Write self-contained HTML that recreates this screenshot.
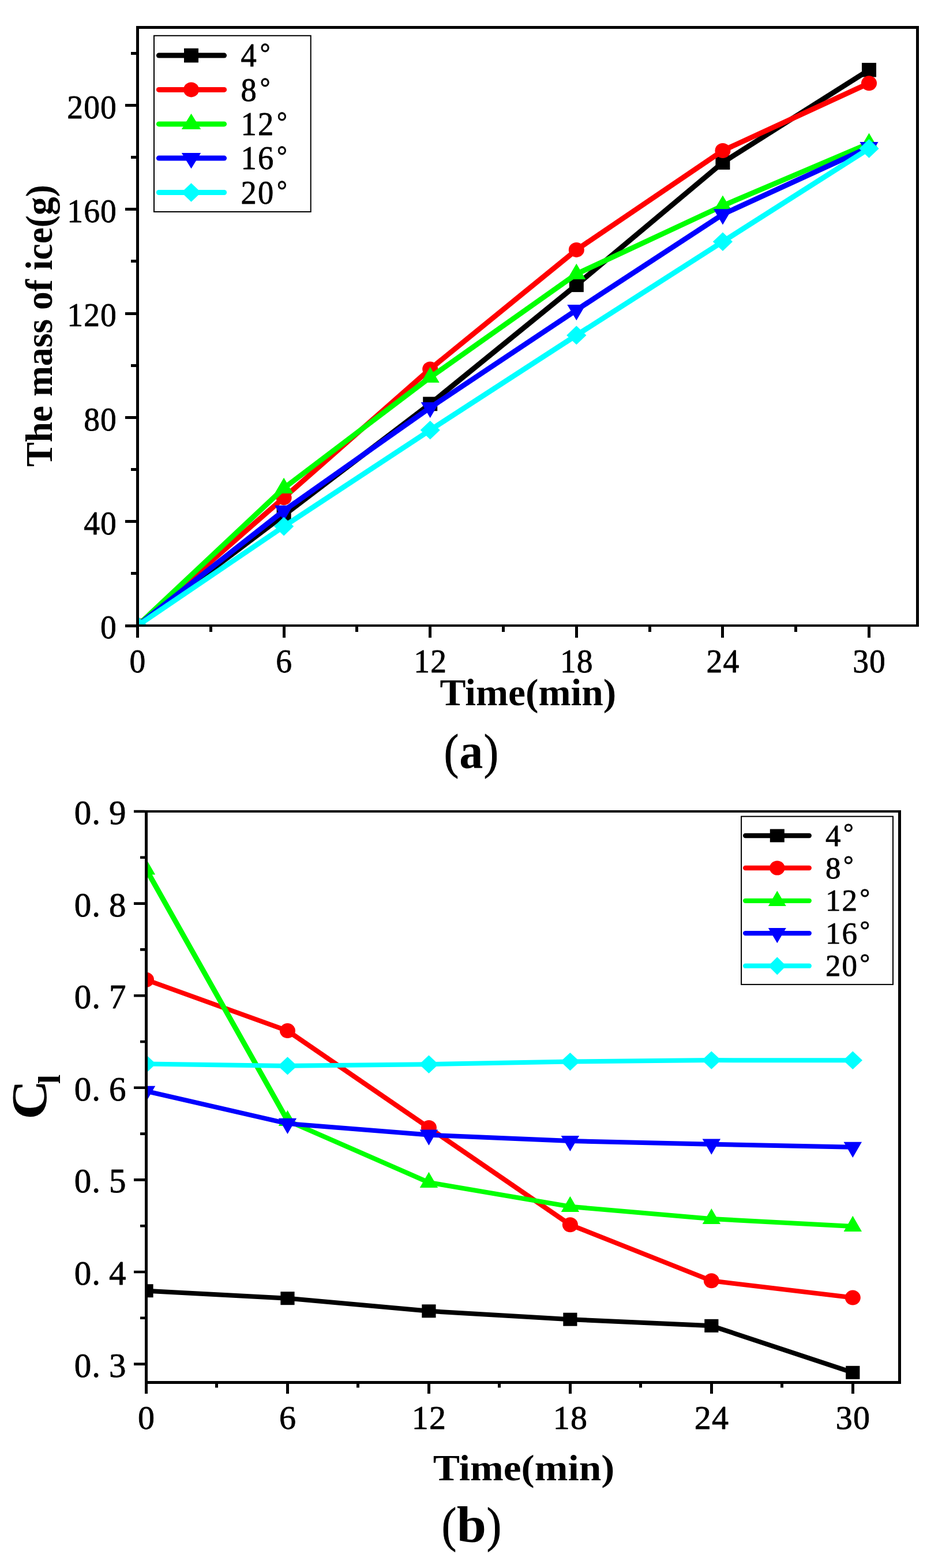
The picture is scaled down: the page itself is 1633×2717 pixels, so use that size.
<!DOCTYPE html>
<html lang="en"><head><meta charset="utf-8"><title>Ice mass and Cl versus time</title>
<style>
html,body{margin:0;padding:0;background:#fff;}
body{width:1633px;height:2717px;overflow:hidden;}
svg{display:block;}
text{font-family:"Liberation Serif","Noto Serif CJK SC",serif;fill:#000;}
.n{font-weight:400;stroke:#000;stroke-width:0.8px;stroke-linejoin:round;}
.t{font-weight:700;}
.p{font-weight:400;stroke:#000;stroke-width:1.1px;stroke-linejoin:round;}
</style></head><body>
<svg width="1633" height="2717" viewBox="0 0 1633 2717">
<rect width="1633" height="2717" fill="#fff"/>
<g id="chart-a">
<clipPath id="clipA"><rect x="238.5" y="47.5" width="1352" height="1036.5"/></clipPath>
<g clip-path="url(#clipA)">
<polyline points="238.5,1084 492.1,892.7 745.7,699.9 999.31,493.8 1252.91,281.6 1506.51,121.2" fill="none" stroke="#000000" stroke-width="9" stroke-linejoin="round" stroke-linecap="round"/>
<rect x="226" y="1071.7" width="25" height="24.6" fill="#000000"/>
<rect x="479.6" y="880.4" width="25" height="24.6" fill="#000000"/>
<rect x="733.2" y="687.6" width="25" height="24.6" fill="#000000"/>
<rect x="986.81" y="481.5" width="25" height="24.6" fill="#000000"/>
<rect x="1240.41" y="269.3" width="25" height="24.6" fill="#000000"/>
<rect x="1494.01" y="108.9" width="25" height="24.6" fill="#000000"/>
<polyline points="238.5,1084 492.1,862.4 745.7,639.5 999.31,432.9 1252.91,261 1506.51,144.2" fill="none" stroke="#ff0000" stroke-width="9" stroke-linejoin="round" stroke-linecap="round"/>
<ellipse cx="238.5" cy="1084" rx="13.5" ry="13" fill="#ff0000"/>
<ellipse cx="492.1" cy="862.4" rx="13.5" ry="13" fill="#ff0000"/>
<ellipse cx="745.7" cy="639.5" rx="13.5" ry="13" fill="#ff0000"/>
<ellipse cx="999.31" cy="432.9" rx="13.5" ry="13" fill="#ff0000"/>
<ellipse cx="1252.91" cy="261" rx="13.5" ry="13" fill="#ff0000"/>
<ellipse cx="1506.51" cy="144.2" rx="13.5" ry="13" fill="#ff0000"/>
<polyline points="238.5,1084 492.1,845.9 745.7,653.9 999.31,474.8 1252.91,356.5 1506.51,248.6" fill="none" stroke="#00ff00" stroke-width="9" stroke-linejoin="round" stroke-linecap="round"/>
<polygon points="238.5,1065.9 254.5,1093.1 222.5,1093.1" fill="#00ff00"/>
<polygon points="492.1,827.8 508.1,855 476.1,855" fill="#00ff00"/>
<polygon points="745.7,635.8 761.7,663 729.7,663" fill="#00ff00"/>
<polygon points="999.31,456.7 1015.31,483.9 983.31,483.9" fill="#00ff00"/>
<polygon points="1252.91,338.4 1268.91,365.6 1236.91,365.6" fill="#00ff00"/>
<polygon points="1506.51,230.5 1522.51,257.7 1490.51,257.7" fill="#00ff00"/>
<polyline points="238.5,1084 492.1,884.9 745.7,706.2 999.31,537.2 1252.91,371.4 1506.51,255.2" fill="none" stroke="#0000ff" stroke-width="9" stroke-linejoin="round" stroke-linecap="round"/>
<polygon points="238.5,1102.1 254.5,1074.9 222.5,1074.9" fill="#0000ff"/>
<polygon points="492.1,903 508.1,875.8 476.1,875.8" fill="#0000ff"/>
<polygon points="745.7,724.3 761.7,697.1 729.7,697.1" fill="#0000ff"/>
<polygon points="999.31,555.3 1015.31,528.1 983.31,528.1" fill="#0000ff"/>
<polygon points="1252.91,389.5 1268.91,362.3 1236.91,362.3" fill="#0000ff"/>
<polygon points="1506.51,273.3 1522.51,246.1 1490.51,246.1" fill="#0000ff"/>
<polyline points="238.5,1084 492.1,912.1 745.7,745.3 999.31,580.9 1252.91,418.8 1506.51,257.4" fill="none" stroke="#00ffff" stroke-width="9" stroke-linejoin="round" stroke-linecap="round"/>
<polygon points="238.5,1067.7 255.6,1084 238.5,1100.3 221.4,1084" fill="#00ffff"/>
<polygon points="492.1,895.8 509.2,912.1 492.1,928.4 475,912.1" fill="#00ffff"/>
<polygon points="745.7,729 762.8,745.3 745.7,761.6 728.6,745.3" fill="#00ffff"/>
<polygon points="999.31,564.6 1016.41,580.9 999.31,597.2 982.21,580.9" fill="#00ffff"/>
<polygon points="1252.91,402.5 1270.01,418.8 1252.91,435.1 1235.81,418.8" fill="#00ffff"/>
<polygon points="1506.51,241.1 1523.61,257.4 1506.51,273.7 1489.41,257.4" fill="#00ffff"/>
</g>
<path d="M236,45H1593V1086H236ZM241,50V1082H1588V50ZM236,1086H241V1105H236ZM490,1086H495V1105H490ZM743,1086H748V1105H743ZM997,1086H1002V1105H997ZM1250,1086H1255V1105H1250ZM1504,1086H1509V1105H1504ZM363,1086H368V1095H363ZM616,1086H621V1095H616ZM870,1086H875V1095H870ZM1124,1086H1129V1095H1124ZM1377,1086H1382V1095H1377ZM217,1082H236V1087H217ZM217,901H236V906H217ZM217,721H236V726H217ZM217,541H236V546H217ZM217,360H236V365H217ZM217,180H236V185H217ZM227,991H236V996H227ZM227,811H236V816H227ZM227,631H236V636H227ZM227,450H236V455H227ZM227,270H236V275H227ZM227,90H236V95H227Z" fill="#000" fill-rule="evenodd"/>
<text class="n" x="231.55" y="1165.3" font-size="57.3" transform="scale(0.97,1)">0</text>
<text class="n" x="493" y="1165.3" font-size="57.3" transform="scale(0.97,1)">6</text>
<text class="n" x="739.55 769.34" y="1165.3" font-size="57.3" transform="scale(0.97,1)">12</text>
<text class="n" x="1000.99 1030.78" y="1165.3" font-size="57.3" transform="scale(0.97,1)">18</text>
<text class="n" x="1262.44 1292.23" y="1165.3" font-size="57.3" transform="scale(0.97,1)">24</text>
<text class="n" x="1523.88 1553.67" y="1165.3" font-size="57.3" transform="scale(0.97,1)">30</text>
<text class="n" x="179.44" y="1106.2" font-size="57.3" transform="scale(0.97,1)">0</text>
<text class="n" x="149.64 179.44" y="925.9" font-size="57.3" transform="scale(0.97,1)">40</text>
<text class="n" x="149.64 179.44" y="745.6" font-size="57.3" transform="scale(0.97,1)">80</text>
<text class="n" x="119.85 149.64 179.44" y="565.3" font-size="57.3" transform="scale(0.97,1)">120</text>
<text class="n" x="119.85 149.64 179.44" y="385" font-size="57.3" transform="scale(0.97,1)">160</text>
<text class="n" x="119.85 149.64 179.44" y="204.7" font-size="57.3" transform="scale(0.97,1)">200</text>
<rect x="267" y="61.8" width="271.7" height="305.2" fill="#fff" stroke="#000" stroke-width="2"/>
<line x1="275.4" y1="96.1" x2="388.6" y2="96.1" stroke="#000000" stroke-width="9" stroke-linecap="round"/>
<rect x="319" y="83.8" width="25" height="24.6" fill="#000000"/>
<text class="n" y="115.5" font-size="58" transform="scale(0.94,1)"><tspan x="444.28">4</tspan><tspan x="479.48" dy="-8.2" font-size="47">°</tspan></text>
<line x1="275.4" y1="155.4" x2="388.6" y2="155.4" stroke="#ff0000" stroke-width="9" stroke-linecap="round"/>
<ellipse cx="331.5" cy="155.4" rx="13.5" ry="13" fill="#ff0000"/>
<text class="n" y="174.8" font-size="58" transform="scale(0.94,1)"><tspan x="444.28">8</tspan><tspan x="479.48" dy="-8.2" font-size="47">°</tspan></text>
<line x1="275.4" y1="214.9" x2="388.6" y2="214.9" stroke="#00ff00" stroke-width="9" stroke-linecap="round"/>
<polygon points="331.5,196.8 348.2,224 314.8,224" fill="#00ff00"/>
<text class="n" y="234.3" font-size="58" transform="scale(0.94,1)"><tspan x="444.28 475.45">12</tspan><tspan x="510.65" dy="-8.2" font-size="47">°</tspan></text>
<line x1="275.4" y1="274.1" x2="388.6" y2="274.1" stroke="#0000ff" stroke-width="9" stroke-linecap="round"/>
<polygon points="331.5,292.2 348.2,265 314.8,265" fill="#0000ff"/>
<text class="n" y="293.5" font-size="58" transform="scale(0.94,1)"><tspan x="444.28 475.45">16</tspan><tspan x="510.65" dy="-8.2" font-size="47">°</tspan></text>
<line x1="275.4" y1="333.5" x2="388.6" y2="333.5" stroke="#00ffff" stroke-width="9" stroke-linecap="round"/>
<polygon points="331.5,317.2 348.6,333.5 331.5,349.8 314.4,333.5" fill="#00ffff"/>
<text class="n" y="352.9" font-size="58" transform="scale(0.94,1)"><tspan x="444.28 475.45">20</tspan><tspan x="510.65" dy="-8.2" font-size="47">°</tspan></text>
<text class="t" x="762.49" y="1222.14" font-size="64.75" textLength="305.68" lengthAdjust="spacingAndGlyphs">Time(min)</text>
<text><tspan class="p" x="769.86" y="1331.45" font-size="85.41" textLength="25.47" lengthAdjust="spacingAndGlyphs">(</tspan><tspan class="t" x="796.13" y="1331.24" font-size="86.04" textLength="41.1" lengthAdjust="spacingAndGlyphs">a</tspan><tspan class="p" x="838.74" y="1331.45" font-size="85.41" textLength="25.22" lengthAdjust="spacingAndGlyphs">)</tspan></text>
<text transform="translate(90.11,808.85) rotate(-90)"><tspan class="t" font-size="64.5" textLength="488.78" lengthAdjust="spacingAndGlyphs" x="0" y="0">The mass of ice(g)</tspan></text>
</g>
<g id="chart-b">
<clipPath id="clipB"><rect x="253.5" y="1406" width="1306" height="989.5"/></clipPath>
<g clip-path="url(#clipB)">
<line x1="253.5" y1="2236.7" x2="498.46" y2="2249.7" stroke="#000000" stroke-width="8" stroke-linecap="round"/>
<line x1="498.46" y1="2249.7" x2="743.42" y2="2271.8" stroke="#000000" stroke-width="8.01" stroke-linecap="round"/>
<line x1="743.42" y1="2271.8" x2="988.39" y2="2286.2" stroke="#000000" stroke-width="8" stroke-linecap="round"/>
<line x1="988.39" y1="2286.2" x2="1233.35" y2="2297.3" stroke="#000000" stroke-width="8" stroke-linecap="round"/>
<line x1="1233.35" y1="2297.3" x2="1478.31" y2="2378.3" stroke="#000000" stroke-width="8.14" stroke-linecap="round"/>
<rect x="241.4" y="2225.2" width="24.2" height="23" fill="#000000"/>
<rect x="486.36" y="2238.2" width="24.2" height="23" fill="#000000"/>
<rect x="731.32" y="2260.3" width="24.2" height="23" fill="#000000"/>
<rect x="976.29" y="2274.7" width="24.2" height="23" fill="#000000"/>
<rect x="1221.25" y="2285.8" width="24.2" height="23" fill="#000000"/>
<rect x="1466.21" y="2366.8" width="24.2" height="23" fill="#000000"/>
<line x1="253.5" y1="1697.8" x2="498.46" y2="1786.1" stroke="#ff0000" stroke-width="8.16" stroke-linecap="round"/>
<line x1="498.46" y1="1786.1" x2="743.42" y2="1954" stroke="#ff0000" stroke-width="8.45" stroke-linecap="round"/>
<line x1="743.42" y1="1954" x2="988.39" y2="2122.2" stroke="#ff0000" stroke-width="8.45" stroke-linecap="round"/>
<line x1="988.39" y1="2122.2" x2="1233.35" y2="2219.3" stroke="#ff0000" stroke-width="8.19" stroke-linecap="round"/>
<line x1="1233.35" y1="2219.3" x2="1478.31" y2="2248.6" stroke="#ff0000" stroke-width="8.02" stroke-linecap="round"/>
<ellipse cx="253.5" cy="1697.8" rx="13.5" ry="13" fill="#ff0000"/>
<ellipse cx="498.46" cy="1786.1" rx="13.5" ry="13" fill="#ff0000"/>
<ellipse cx="743.42" cy="1954" rx="13.5" ry="13" fill="#ff0000"/>
<ellipse cx="988.39" cy="2122.2" rx="13.5" ry="13" fill="#ff0000"/>
<ellipse cx="1233.35" cy="2219.3" rx="13.5" ry="13" fill="#ff0000"/>
<ellipse cx="1478.31" cy="2248.6" rx="13.5" ry="13" fill="#ff0000"/>
<line x1="253.5" y1="1506.4" x2="498.46" y2="1941.8" stroke="#00ff00" stroke-width="9.06" stroke-linecap="round"/>
<line x1="498.46" y1="1941.8" x2="743.42" y2="2048.9" stroke="#00ff00" stroke-width="8.22" stroke-linecap="round"/>
<line x1="743.42" y1="2048.9" x2="988.39" y2="2090.8" stroke="#00ff00" stroke-width="8.04" stroke-linecap="round"/>
<line x1="988.39" y1="2090.8" x2="1233.35" y2="2112" stroke="#00ff00" stroke-width="8.01" stroke-linecap="round"/>
<line x1="1233.35" y1="2112" x2="1478.31" y2="2124.9" stroke="#00ff00" stroke-width="8" stroke-linecap="round"/>
<polygon points="253.5,1488.3 269.2,1515.5 237.8,1515.5" fill="#00ff00"/>
<polygon points="498.46,1923.7 514.16,1950.9 482.76,1950.9" fill="#00ff00"/>
<polygon points="743.42,2030.8 759.12,2058 727.72,2058" fill="#00ff00"/>
<polygon points="988.39,2072.7 1004.09,2099.9 972.69,2099.9" fill="#00ff00"/>
<polygon points="1233.35,2093.9 1249.05,2121.1 1217.65,2121.1" fill="#00ff00"/>
<polygon points="1478.31,2106.8 1494.01,2134 1462.61,2134" fill="#00ff00"/>
<line x1="253.5" y1="1890.8" x2="498.46" y2="1946.9" stroke="#0000ff" stroke-width="8.07" stroke-linecap="round"/>
<line x1="498.46" y1="1946.9" x2="743.42" y2="1966.6" stroke="#0000ff" stroke-width="8.01" stroke-linecap="round"/>
<line x1="743.42" y1="1966.6" x2="988.39" y2="1977" stroke="#0000ff" stroke-width="8" stroke-linecap="round"/>
<line x1="988.39" y1="1977" x2="1233.35" y2="1982.7" stroke="#0000ff" stroke-width="8" stroke-linecap="round"/>
<line x1="1233.35" y1="1982.7" x2="1478.31" y2="1987.8" stroke="#0000ff" stroke-width="8" stroke-linecap="round"/>
<polygon points="253.5,1908.9 269.2,1881.7 237.8,1881.7" fill="#0000ff"/>
<polygon points="498.46,1965 514.16,1937.8 482.76,1937.8" fill="#0000ff"/>
<polygon points="743.42,1984.7 759.12,1957.5 727.72,1957.5" fill="#0000ff"/>
<polygon points="988.39,1995.1 1004.09,1967.9 972.69,1967.9" fill="#0000ff"/>
<polygon points="1233.35,2000.8 1249.05,1973.6 1217.65,1973.6" fill="#0000ff"/>
<polygon points="1478.31,2005.9 1494.01,1978.7 1462.61,1978.7" fill="#0000ff"/>
<line x1="253.5" y1="1843.5" x2="498.46" y2="1846.9" stroke="#00ffff" stroke-width="8" stroke-linecap="round"/>
<line x1="498.46" y1="1846.9" x2="743.42" y2="1844.2" stroke="#00ffff" stroke-width="8" stroke-linecap="round"/>
<line x1="743.42" y1="1844.2" x2="988.39" y2="1839.6" stroke="#00ffff" stroke-width="8" stroke-linecap="round"/>
<line x1="988.39" y1="1839.6" x2="1233.35" y2="1837.1" stroke="#00ffff" stroke-width="8" stroke-linecap="round"/>
<line x1="1233.35" y1="1837.1" x2="1478.31" y2="1837.3" stroke="#00ffff" stroke-width="8" stroke-linecap="round"/>
<polygon points="253.5,1827.8 270.2,1843.5 253.5,1859.2 236.8,1843.5" fill="#00ffff"/>
<polygon points="498.46,1831.2 515.16,1846.9 498.46,1862.6 481.76,1846.9" fill="#00ffff"/>
<polygon points="743.42,1828.5 760.12,1844.2 743.42,1859.9 726.72,1844.2" fill="#00ffff"/>
<polygon points="988.39,1823.9 1005.09,1839.6 988.39,1855.3 971.69,1839.6" fill="#00ffff"/>
<polygon points="1233.35,1821.4 1250.05,1837.1 1233.35,1852.8 1216.65,1837.1" fill="#00ffff"/>
<polygon points="1478.31,1821.6 1495.01,1837.3 1478.31,1853 1461.61,1837.3" fill="#00ffff"/>
</g>
<path d="M251,1404H1562V2398H251ZM256,1408V2393H1557V1408ZM251,2398H256V2415H251ZM496,2398H501V2415H496ZM741,2398H746V2415H741ZM986,2398H991V2415H986ZM1231,2398H1236V2415H1231ZM1476,2398H1481V2415H1476ZM373,2398H378V2404.5H373ZM618,2398H623V2404.5H618ZM863,2398H868V2404.5H863ZM1108,2398H1113V2404.5H1108ZM1353,2398H1358V2404.5H1353ZM232,2361.3H251V2365.9H232ZM232,2201.7H251V2206.3H232ZM232,2042.1H251V2046.7H232ZM232,1882.5H251V1887.1H232ZM232,1722.9H251V1727.5H232ZM232,1563.3H251V1567.9H232ZM232,1403.7H251V1408.3H232ZM243,2281.5H251V2286.1H243ZM243,2121.9H251V2126.5H243ZM243,1962.3H251V1966.9H243ZM243,1802.7H251V1807.3H243ZM243,1643.1H251V1647.7H243ZM243,1483.5H251V1488.1H243Z" fill="#000" fill-rule="evenodd"/>
<text class="n" x="239" y="2475.6" font-size="58">0</text>
<text class="n" x="483.96" y="2475.6" font-size="58">6</text>
<text class="n" x="713.82 744.02" y="2475.6" font-size="58">12</text>
<text class="n" x="958.79 988.99" y="2475.6" font-size="58">18</text>
<text class="n" x="1203.75 1233.95" y="2475.6" font-size="58">24</text>
<text class="n" x="1448.71 1478.91" y="2475.6" font-size="58">30</text>
<text class="n" x="128.65 159.22 189.05" y="2385.6" font-size="59">0.3</text>
<text class="n" x="128.65 159.22 189.05" y="2226" font-size="59">0.4</text>
<text class="n" x="128.65 159.22 189.05" y="2066.4" font-size="59">0.5</text>
<text class="n" x="128.65 159.22 189.05" y="1906.8" font-size="59">0.6</text>
<text class="n" x="128.65 159.22 189.05" y="1747.2" font-size="59">0.7</text>
<text class="n" x="128.65 159.22 189.05" y="1587.6" font-size="59">0.8</text>
<text class="n" x="128.65 159.22 189.05" y="1428" font-size="59">0.9</text>
<rect x="1285.1" y="1414.7" width="262.9" height="291.2" fill="#fff" stroke="#000" stroke-width="2"/>
<line x1="1292.1" y1="1448" x2="1402.8" y2="1448" stroke="#000000" stroke-width="8.3" stroke-linecap="round"/>
<rect x="1334.8" y="1436.6" width="25" height="22.8" fill="#000000"/>
<text class="n" y="1465.6" font-size="53" transform="scale(1.0,1)"><tspan x="1431">4</tspan><tspan x="1461.95" dy="-8.8" font-size="44">°</tspan></text>
<line x1="1292.1" y1="1504" x2="1402.8" y2="1504" stroke="#ff0000" stroke-width="8.3" stroke-linecap="round"/>
<ellipse cx="1347.3" cy="1504" rx="13.2" ry="12.6" fill="#ff0000"/>
<text class="n" y="1521.6" font-size="53" transform="scale(1.0,1)"><tspan x="1431">8</tspan><tspan x="1461.95" dy="-8.8" font-size="44">°</tspan></text>
<line x1="1292.1" y1="1560.8" x2="1402.8" y2="1560.8" stroke="#00ff00" stroke-width="8.3" stroke-linecap="round"/>
<polygon points="1347.3,1543.6 1362.8,1570 1331.8,1570" fill="#00ff00"/>
<text class="n" y="1578.4" font-size="53" transform="scale(1.0,1)"><tspan x="1431 1459.5">12</tspan><tspan x="1490.45" dy="-8.8" font-size="44">°</tspan></text>
<line x1="1292.1" y1="1617.1" x2="1402.8" y2="1617.1" stroke="#0000ff" stroke-width="8.3" stroke-linecap="round"/>
<polygon points="1347.3,1634.3 1362.8,1607.9 1331.8,1607.9" fill="#0000ff"/>
<text class="n" y="1634.7" font-size="53" transform="scale(1.0,1)"><tspan x="1431 1459.5">16</tspan><tspan x="1490.45" dy="-8.8" font-size="44">°</tspan></text>
<line x1="1292.1" y1="1673.7" x2="1402.8" y2="1673.7" stroke="#00ffff" stroke-width="8.3" stroke-linecap="round"/>
<polygon points="1347.3,1658.2 1362.8,1673.7 1347.3,1689.2 1331.8,1673.7" fill="#00ffff"/>
<text class="n" y="1691.3" font-size="53" transform="scale(1.0,1)"><tspan x="1431 1459.5">20</tspan><tspan x="1490.45" dy="-8.8" font-size="44">°</tspan></text>
<text class="t" x="750.76" y="2564.88" font-size="64.09" textLength="314.6" lengthAdjust="spacingAndGlyphs">Time(min)</text>
<text><tspan class="p" x="765.86" y="2671.47" font-size="85.3" textLength="25.47" lengthAdjust="spacingAndGlyphs">(</tspan><tspan class="t" x="791.75" y="2672.2" font-size="89.65" textLength="51.25" lengthAdjust="spacingAndGlyphs">b</tspan><tspan class="p" x="843.73" y="2671.47" font-size="85.3" textLength="25.35" lengthAdjust="spacingAndGlyphs">)</tspan></text>
<text transform="translate(80.23,1939.73) rotate(-90)"><tspan class="t" font-size="86.54" textLength="68.33" lengthAdjust="spacingAndGlyphs" x="0" y="0">C</tspan><tspan class="t" font-size="55.25" textLength="16.44" lengthAdjust="spacingAndGlyphs" x="61.45" y="23.97">l</tspan></text>
</g>
</svg></body></html>
